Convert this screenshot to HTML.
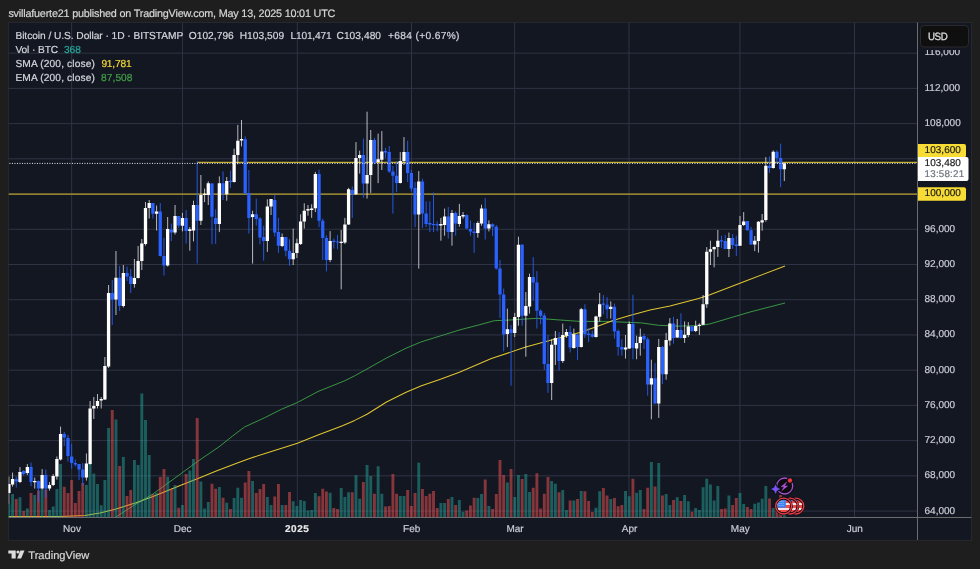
<!DOCTYPE html><html><head><meta charset="utf-8"><title>BTCUSD chart</title><style>
html,body{margin:0;padding:0;background:#1e1e1e}
body{width:980px;height:569px;position:relative;overflow:hidden;font-family:"Liberation Sans",sans-serif;}
.t{position:absolute;white-space:nowrap;line-height:1;color:#d1d4dc;text-rendering:geometricPrecision;-webkit-text-stroke:0.2px currentColor}
.ax{font-size:10px;letter-spacing:0.02px;color:#cbcdd4}

.lg{font-size:10.2px;color:#d4d6dc;letter-spacing:0.05px}
</style></head><body>
<svg width="980" height="569" viewBox="0 0 980 569" style="position:absolute;left:0;top:0">
<rect x="8.62" y="22.42" width="962.95" height="517.85" fill="#131722" stroke="#2b2c32" stroke-width="0.85"/>
<clipPath id="cp"><rect x="8.5" y="22.5" width="909.0" height="495.0"/></clipPath>
<path d="M8.5 511.06H917.5M8.5 475.84H917.5M8.5 440.62H917.5M8.5 405.39H917.5M8.5 370.17H917.5M8.5 334.94H917.5M8.5 299.72H917.5M8.5 264.50H917.5M8.5 229.27H917.5M8.5 194.05H917.5M8.5 158.82H917.5M8.5 123.60H917.5M8.5 88.38H917.5M8.5 53.15H917.5M71.65 22.5V517.5M182.55 22.5V517.5M297.30 22.5V517.5M411.50 22.5V517.5M514.65 22.5V517.5M629.00 22.5V517.5M739.95 22.5V517.5M854.50 22.5V517.5" stroke="#2f3445" stroke-width="1" fill="none"/>
<g clip-path="url(#cp)">
<path d="M8.5 194.05H917.5" stroke="#b5a02d" stroke-width="1.3"/>
<path d="M197.19 162.35H917.5" stroke="#c4ad2e" stroke-width="1.3"/>
<path d="M116.0 517.0L125.0 511.0L136.0 504.1L153.1 493.9L182.7 472.4L197.4 461.6L220.0 446.1L232.2 436.3L244.5 427.0L264.1 418.0L281.2 409.4L297.4 402.5L318.0 391.5L344.9 380.7L354.7 375.8L367.0 369.0L386.5 358.0L406.1 348.2L420.8 342.0L440.4 335.9L460.0 329.8L478.6 325.0L494.3 320.7L510.0 320.0L537.0 318.3L560.0 320.0L580.0 321.4L605.7 321.4L641.4 322.9L658.6 325.3L678.6 326.1L698.6 325.7L710.0 323.9L750.0 312.0L785.0 303.0" stroke="#3c9c44" stroke-width="0.95" fill="none" stroke-linejoin="round"/>
<path d="M8.5 516.6L60.0 516.4L85.0 515.5L100.0 513.0L116.0 509.0L136.0 502.7L153.0 496.5L182.7 484.4L197.4 478.7L215.0 471.5L236.0 463.4L248.2 458.9L269.0 452.3L297.4 443.2L318.0 435.1L342.5 425.8L354.7 420.4L367.0 414.3L386.5 402.0L406.1 392.2L420.8 386.1L440.4 379.3L460.0 371.9L491.4 358.6L525.7 347.1L570.0 335.0L580.0 332.5L595.7 326.9L612.9 320.4L628.9 315.7L650.0 310.0L670.0 306.0L698.6 298.6L710.0 294.7L746.4 280.7L785.0 266.0" stroke="#e0c530" stroke-width="1.05" fill="none" stroke-linejoin="round"/>
<path d="M7.43 504.0h2.9V517.2h-2.9zM11.12 493.9h2.9V517.2h-2.9zM18.51 497.3h2.9V517.2h-2.9zM25.89 508.4h2.9V517.2h-2.9zM33.28 494.9h2.9V517.2h-2.9zM40.66 489.6h2.9V517.2h-2.9zM48.05 510.1h2.9V517.2h-2.9zM51.74 506.6h2.9V517.2h-2.9zM55.43 489.1h2.9V517.2h-2.9zM59.12 464.1h2.9V517.2h-2.9zM84.97 484.9h2.9V517.2h-2.9zM88.66 464.1h2.9V517.2h-2.9zM92.36 473.4h2.9V517.2h-2.9zM96.05 483.9h2.9V517.2h-2.9zM99.74 505.3h2.9V517.2h-2.9zM103.43 479.9h2.9V517.2h-2.9zM107.12 427.9h2.9V517.2h-2.9zM114.51 419.6h2.9V517.2h-2.9zM121.89 457.0h2.9V517.2h-2.9zM132.97 459.9h2.9V517.2h-2.9zM136.67 465.0h2.9V517.2h-2.9zM140.36 393.6h2.9V517.2h-2.9zM144.05 420.0h2.9V517.2h-2.9zM147.74 455.0h2.9V517.2h-2.9zM155.13 492.7h2.9V517.2h-2.9zM166.21 476.7h2.9V517.2h-2.9zM173.59 484.9h2.9V517.2h-2.9zM180.98 504.9h2.9V517.2h-2.9zM188.36 470.6h2.9V517.2h-2.9zM192.05 459.1h2.9V517.2h-2.9zM199.44 481.6h2.9V517.2h-2.9zM203.13 508.4h2.9V517.2h-2.9zM206.82 502.0h2.9V517.2h-2.9zM217.90 487.0h2.9V517.2h-2.9zM225.29 502.7h2.9V517.2h-2.9zM232.67 498.0h2.9V517.2h-2.9zM236.36 487.7h2.9V517.2h-2.9zM240.06 497.7h2.9V517.2h-2.9zM251.13 480.9h2.9V517.2h-2.9zM265.90 497.0h2.9V517.2h-2.9zM269.59 504.9h2.9V517.2h-2.9zM280.67 504.9h2.9V517.2h-2.9zM291.75 501.3h2.9V517.2h-2.9zM295.44 505.9h2.9V517.2h-2.9zM299.14 499.9h2.9V517.2h-2.9zM302.83 500.9h2.9V517.2h-2.9zM306.52 510.6h2.9V517.2h-2.9zM310.21 509.9h2.9V517.2h-2.9zM313.91 493.0h2.9V517.2h-2.9zM328.68 492.7h2.9V517.2h-2.9zM339.75 488.0h2.9V517.2h-2.9zM343.44 497.0h2.9V517.2h-2.9zM347.14 492.3h2.9V517.2h-2.9zM354.52 475.3h2.9V517.2h-2.9zM358.21 498.7h2.9V517.2h-2.9zM365.60 464.9h2.9V517.2h-2.9zM369.29 475.9h2.9V517.2h-2.9zM376.68 466.3h2.9V517.2h-2.9zM380.37 493.7h2.9V517.2h-2.9zM398.83 496.0h2.9V517.2h-2.9zM402.53 496.0h2.9V517.2h-2.9zM417.30 462.7h2.9V517.2h-2.9zM439.45 503.0h2.9V517.2h-2.9zM443.14 503.0h2.9V517.2h-2.9zM450.53 497.0h2.9V517.2h-2.9zM457.91 499.9h2.9V517.2h-2.9zM461.60 511.7h2.9V517.2h-2.9zM476.38 498.0h2.9V517.2h-2.9zM480.07 494.1h2.9V517.2h-2.9zM487.45 506.0h2.9V517.2h-2.9zM505.92 482.4h2.9V517.2h-2.9zM513.30 497.0h2.9V517.2h-2.9zM516.99 474.9h2.9V517.2h-2.9zM524.38 474.1h2.9V517.2h-2.9zM528.07 492.0h2.9V517.2h-2.9zM550.22 481.0h2.9V517.2h-2.9zM553.92 483.7h2.9V517.2h-2.9zM561.30 490.1h2.9V517.2h-2.9zM564.99 509.9h2.9V517.2h-2.9zM572.38 500.6h2.9V517.2h-2.9zM579.76 490.9h2.9V517.2h-2.9zM594.53 507.7h2.9V517.2h-2.9zM598.23 491.3h2.9V517.2h-2.9zM609.30 499.1h2.9V517.2h-2.9zM624.07 490.9h2.9V517.2h-2.9zM627.77 496.3h2.9V517.2h-2.9zM635.15 492.7h2.9V517.2h-2.9zM638.84 489.9h2.9V517.2h-2.9zM649.92 462.0h2.9V517.2h-2.9zM657.31 463.0h2.9V517.2h-2.9zM664.69 493.9h2.9V517.2h-2.9zM668.38 504.9h2.9V517.2h-2.9zM675.77 497.3h2.9V517.2h-2.9zM683.15 494.9h2.9V517.2h-2.9zM686.85 501.3h2.9V517.2h-2.9zM694.23 508.0h2.9V517.2h-2.9zM697.92 509.9h2.9V517.2h-2.9zM701.62 487.3h2.9V517.2h-2.9zM705.31 478.7h2.9V517.2h-2.9zM709.00 484.6h2.9V517.2h-2.9zM712.69 500.6h2.9V517.2h-2.9zM716.39 486.0h2.9V517.2h-2.9zM727.46 495.6h2.9V517.2h-2.9zM738.54 493.0h2.9V517.2h-2.9zM742.23 504.1h2.9V517.2h-2.9zM753.31 503.7h2.9V517.2h-2.9zM757.00 502.4h2.9V517.2h-2.9zM760.70 498.7h2.9V517.2h-2.9zM764.39 486.0h2.9V517.2h-2.9zM771.77 508.0h2.9V517.2h-2.9zM782.85 514.9h2.9V517.2h-2.9z" fill="#26a69a" fill-opacity="0.5"/>
<path d="M14.81 499.1h2.9V517.2h-2.9zM22.20 511.0h2.9V517.2h-2.9zM29.58 493.1h2.9V517.2h-2.9zM36.97 490.6h2.9V517.2h-2.9zM44.35 489.6h2.9V517.2h-2.9zM62.81 486.7h2.9V517.2h-2.9zM66.51 493.0h2.9V517.2h-2.9zM70.20 480.1h2.9V517.2h-2.9zM73.89 503.0h2.9V517.2h-2.9zM77.59 491.0h2.9V517.2h-2.9zM81.28 483.0h2.9V517.2h-2.9zM110.82 410.0h2.9V517.2h-2.9zM118.20 466.0h2.9V517.2h-2.9zM125.59 495.9h2.9V517.2h-2.9zM129.28 490.1h2.9V517.2h-2.9zM151.44 494.1h2.9V517.2h-2.9zM158.82 477.0h2.9V517.2h-2.9zM162.51 469.1h2.9V517.2h-2.9zM169.90 489.1h2.9V517.2h-2.9zM177.28 507.7h2.9V517.2h-2.9zM184.67 473.9h2.9V517.2h-2.9zM195.75 418.1h2.9V517.2h-2.9zM210.52 483.7h2.9V517.2h-2.9zM214.21 488.7h2.9V517.2h-2.9zM221.59 497.7h2.9V517.2h-2.9zM228.98 508.9h2.9V517.2h-2.9zM243.75 482.4h2.9V517.2h-2.9zM247.44 471.0h2.9V517.2h-2.9zM254.82 493.0h2.9V517.2h-2.9zM258.52 488.9h2.9V517.2h-2.9zM262.21 483.9h2.9V517.2h-2.9zM273.29 496.5h2.9V517.2h-2.9zM276.98 484.1h2.9V517.2h-2.9zM284.37 504.9h2.9V517.2h-2.9zM288.06 492.0h2.9V517.2h-2.9zM317.60 496.3h2.9V517.2h-2.9zM321.29 488.7h2.9V517.2h-2.9zM324.98 491.6h2.9V517.2h-2.9zM332.37 508.0h2.9V517.2h-2.9zM336.06 508.9h2.9V517.2h-2.9zM350.83 492.3h2.9V517.2h-2.9zM361.91 482.0h2.9V517.2h-2.9zM372.98 493.7h2.9V517.2h-2.9zM384.06 506.6h2.9V517.2h-2.9zM387.76 505.9h2.9V517.2h-2.9zM391.45 473.9h2.9V517.2h-2.9zM395.14 493.7h2.9V517.2h-2.9zM406.22 489.9h2.9V517.2h-2.9zM409.91 505.9h2.9V517.2h-2.9zM413.60 493.0h2.9V517.2h-2.9zM420.99 489.1h2.9V517.2h-2.9zM424.68 495.9h2.9V517.2h-2.9zM428.37 493.7h2.9V517.2h-2.9zM432.06 490.9h2.9V517.2h-2.9zM435.76 508.0h2.9V517.2h-2.9zM446.83 499.1h2.9V517.2h-2.9zM454.22 504.9h2.9V517.2h-2.9zM465.30 510.6h2.9V517.2h-2.9zM468.99 505.6h2.9V517.2h-2.9zM472.68 497.7h2.9V517.2h-2.9zM483.76 479.4h2.9V517.2h-2.9zM491.15 509.1h2.9V517.2h-2.9zM494.84 493.9h2.9V517.2h-2.9zM498.53 459.9h2.9V517.2h-2.9zM502.22 474.9h2.9V517.2h-2.9zM509.61 469.1h2.9V517.2h-2.9zM520.68 478.9h2.9V517.2h-2.9zM531.76 487.7h2.9V517.2h-2.9zM535.45 473.2h2.9V517.2h-2.9zM539.15 508.4h2.9V517.2h-2.9zM542.84 493.7h2.9V517.2h-2.9zM546.53 477.0h2.9V517.2h-2.9zM557.61 492.3h2.9V517.2h-2.9zM568.69 500.6h2.9V517.2h-2.9zM576.07 499.1h2.9V517.2h-2.9zM583.46 491.3h2.9V517.2h-2.9zM587.15 500.9h2.9V517.2h-2.9zM590.84 512.0h2.9V517.2h-2.9zM601.92 488.0h2.9V517.2h-2.9zM605.61 495.6h2.9V517.2h-2.9zM613.00 498.0h2.9V517.2h-2.9zM616.69 506.3h2.9V517.2h-2.9zM620.38 504.9h2.9V517.2h-2.9zM631.46 478.7h2.9V517.2h-2.9zM642.54 509.1h2.9V517.2h-2.9zM646.23 487.7h2.9V517.2h-2.9zM653.61 486.6h2.9V517.2h-2.9zM661.00 495.6h2.9V517.2h-2.9zM672.08 499.9h2.9V517.2h-2.9zM679.46 500.9h2.9V517.2h-2.9zM690.54 511.7h2.9V517.2h-2.9zM720.08 509.1h2.9V517.2h-2.9zM723.77 508.4h2.9V517.2h-2.9zM731.16 504.9h2.9V517.2h-2.9zM734.85 498.0h2.9V517.2h-2.9zM745.93 507.0h2.9V517.2h-2.9zM749.62 508.9h2.9V517.2h-2.9zM768.08 498.4h2.9V517.2h-2.9zM775.47 507.0h2.9V517.2h-2.9zM779.16 494.9h2.9V517.2h-2.9z" fill="#ef5350" fill-opacity="0.52"/>
<path d="M16.26 476.6V487.6M23.65 470.1V475.6M31.03 462.6V486.1M38.42 480.6V502.1M45.80 469.6V497.6M64.27 432.0V446.0M67.96 435.0V461.6M71.65 444.0V468.6M75.34 459.5V466.6M79.04 464.1V480.1M82.73 463.1V485.6M112.27 280.0V325.0M119.65 266.0V311.0M127.04 266.5V281.0M130.73 269.0V293.0M152.88 203.0V218.5M160.27 203.0V256.6M163.96 238.0V275.5M171.35 223.5V241.0M178.73 216.0V228.0M186.12 210.0V243.6M197.19 161.4V263.6M211.97 183.0V244.3M215.66 209.3V243.9M223.04 171.4V200.0M230.43 170.7V187.9M245.20 136.4V194.0M248.89 170.0V233.6M256.27 198.6V225.7M259.97 217.1V244.3M263.66 225.7V260.7M274.74 195.0V236.4M278.43 217.9V252.9M285.81 237.1V256.4M289.51 239.3V265.7M319.05 169.7V227.1M322.74 218.6V260.0M326.43 235.4V271.4M333.82 238.6V248.6M337.51 235.0V249.3M352.28 186.4V217.9M363.36 138.6V197.9M374.43 137.9V164.3M385.51 147.9V157.9M389.21 146.0V172.9M392.90 166.0V213.6M396.59 161.1V192.1M407.67 140.7V182.1M411.36 170.0V191.4M415.05 182.0V227.1M422.44 178.6V227.9M426.13 201.4V227.1M429.82 201.4V232.1M433.51 192.6V232.1M437.21 221.4V231.4M448.28 207.1V238.6M455.67 211.4V235.7M466.75 214.3V229.3M470.44 220.4V235.7M474.13 222.9V252.9M485.21 198.1V239.6M492.60 223.3V236.1M496.29 225.0V269.7M499.98 260.0V317.9M503.67 288.6V351.4M511.06 325.0V385.7M522.13 244.0V325.7M533.21 257.1V300.7M536.90 271.1V328.6M540.60 309.3V324.3M544.29 313.1V370.0M547.98 335.0V392.9M559.06 332.1V370.7M570.14 325.7V352.4M577.52 334.0V360.0M584.91 304.3V337.9M588.60 327.9V342.1M592.29 330.7V337.6M603.37 295.0V314.3M607.06 297.1V318.6M614.45 303.6V338.6M618.14 329.3V355.7M621.83 339.3V355.7M632.91 294.7V359.3M643.99 333.3V349.0M647.68 337.1V395.7M655.06 363.1V404.0M662.45 346.0V384.0M673.53 316.7V343.6M680.91 313.3V338.6M691.99 325.7V331.9M721.53 235.7V247.9M725.22 235.0V249.3M732.61 234.0V248.9M736.30 235.7V256.0M747.38 221.0V230.7M751.07 226.9V245.0M769.53 156.4V172.9M776.92 150.3V163.6M780.61 143.6V187.1" stroke="#2962ff" stroke-width="1" fill="none" opacity="0.85"/>
<path d="M8.88 476.6V504.0M12.57 472.6V486.6M19.96 467.1V483.1M27.34 464.1V475.1M34.73 477.6V488.6M42.11 469.1V489.6M49.50 482.1V490.6M53.19 474.1V486.1M56.88 456.5V479.6M60.57 426.6V460.5M86.42 453.5V480.6M90.11 401.0V464.6M93.81 397.0V419.0M97.50 394.0V408.5M101.19 397.0V408.5M104.88 357.0V400.0M108.58 285.0V368.0M115.96 251.0V315.0M123.34 265.0V307.5M134.42 259.0V287.6M138.12 246.0V278.5M141.81 239.0V270.0M145.50 202.0V245.6M149.19 200.0V218.5M156.58 205.5V230.5M167.66 217.0V266.5M175.04 205.0V234.5M182.43 212.9V231.4M189.81 227.1V250.7M193.50 200.7V241.4M200.89 175.0V225.0M204.58 188.6V202.1M208.27 181.4V205.0M219.35 176.4V232.1M226.74 177.0V200.7M234.12 148.6V182.5M237.81 125.0V164.3M241.50 120.0V146.4M252.58 210.7V263.6M267.35 199.3V251.9M271.04 199.0V215.0M282.12 233.6V247.1M293.20 228.6V265.0M296.89 238.6V257.9M300.59 214.3V245.0M304.28 203.3V228.6M307.97 205.0V215.7M311.66 204.3V217.9M315.36 171.9V212.1M330.12 231.1V262.1M341.20 230.0V289.3M344.89 217.9V244.0M348.59 187.9V225.0M355.97 142.1V195.0M359.66 150.7V173.6M367.05 111.7V198.6M370.74 130.0V192.9M378.13 133.6V183.1M381.82 131.1V170.0M400.28 152.1V183.5M403.98 137.1V165.0M418.75 171.1V268.6M440.90 217.9V240.7M444.59 208.6V235.7M451.98 210.0V245.7M459.36 203.9V226.7M463.05 212.1V218.6M477.83 221.4V237.6M481.52 204.7V225.7M488.90 220.4V231.4M507.37 308.6V347.1M514.75 312.9V337.1M518.44 236.7V325.7M525.83 292.1V356.7M529.52 273.6V313.6M551.67 339.3V400.0M555.37 331.0V365.0M562.75 323.6V362.9M566.44 329.0V337.9M573.83 328.6V348.6M581.22 307.9V347.5M595.99 315.7V337.5M599.68 292.9V321.4M610.75 301.4V318.6M625.52 335.0V358.6M629.22 321.4V349.0M636.60 335.7V359.3M640.29 328.6V355.7M651.37 359.7V419.3M658.76 339.0V417.9M666.14 332.9V379.7M669.83 318.1V345.7M677.22 319.0V338.0M684.60 321.4V342.9M688.30 322.1V337.1M695.68 320.7V332.1M699.38 323.3V335.0M703.07 295.0V325.0M706.76 247.1V307.9M710.45 240.7V265.0M714.14 246.5V267.4M717.84 230.0V256.9M728.91 232.6V257.1M739.99 216.0V246.0M743.68 212.1V226.0M754.76 236.0V251.1M758.45 221.1V252.6M762.15 214.0V230.7M765.84 157.1V221.7M773.22 150.3V168.6M784.30 163.1V181.1" stroke="#ffffff" stroke-width="1" fill="none" opacity="0.7"/>
<path d="M14.61 479.3h3.3V481.6h-3.3zM22.00 471.1h3.3V474.1h-3.3zM29.38 467.1h3.3V482.1h-3.3zM36.77 481.1h3.3V488.6h-3.3zM44.15 474.9h3.3V488.6h-3.3zM62.62 434.0h3.3V437.5h-3.3zM66.31 438.0h3.3V456.0h-3.3zM70.00 456.5h3.3V462.9h-3.3zM73.69 463.1h3.3V464.6h-3.3zM77.39 464.1h3.3V469.6h-3.3zM81.08 469.6h3.3V477.6h-3.3zM110.62 293.0h3.3V299.6h-3.3zM118.00 277.8h3.3V305.8h-3.3zM125.39 273.0h3.3V276.5h-3.3zM129.08 276.5h3.3V283.9h-3.3zM151.23 203.0h3.3V213.8h-3.3zM158.62 211.5h3.3V256.0h-3.3zM162.31 256.0h3.3V265.5h-3.3zM169.70 229.5h3.3V232.5h-3.3zM177.08 216.0h3.3V225.5h-3.3zM184.47 218.1h3.3V231.0h-3.3zM195.54 205.0h3.3V220.7h-3.3zM210.31 183.6h3.3V216.7h-3.3zM214.01 217.9h3.3V223.9h-3.3zM221.39 183.3h3.3V193.6h-3.3zM228.78 180.7h3.3V181.9h-3.3zM243.55 139.3h3.3V193.3h-3.3zM247.24 192.9h3.3V217.9h-3.3zM254.62 214.3h3.3V219.0h-3.3zM258.32 218.6h3.3V237.6h-3.3zM262.01 237.1h3.3V241.0h-3.3zM273.09 200.0h3.3V232.4h-3.3zM276.78 232.1h3.3V245.7h-3.3zM284.17 237.1h3.3V250.7h-3.3zM287.86 250.7h3.3V259.3h-3.3zM317.40 174.0h3.3V220.7h-3.3zM321.09 220.7h3.3V237.9h-3.3zM324.78 237.9h3.3V260.0h-3.3zM332.17 240.7h3.3V242.1h-3.3zM335.86 241.4h3.3V242.6h-3.3zM350.63 190.0h3.3V194.3h-3.3zM361.71 155.0h3.3V183.6h-3.3zM372.78 140.0h3.3V162.9h-3.3zM383.86 151.1h3.3V152.6h-3.3zM387.56 152.1h3.3V171.4h-3.3zM391.25 171.4h3.3V175.7h-3.3zM394.94 175.7h3.3V182.9h-3.3zM406.02 152.1h3.3V172.9h-3.3zM409.71 172.9h3.3V188.6h-3.3zM413.40 187.9h3.3V214.6h-3.3zM420.79 181.4h3.3V213.6h-3.3zM424.48 213.6h3.3V224.0h-3.3zM428.17 223.1h3.3V224.6h-3.3zM431.87 223.9h3.3V225.1h-3.3zM435.56 224.2h3.3V225.4h-3.3zM446.63 216.4h3.3V231.9h-3.3zM454.02 212.9h3.3V223.6h-3.3zM465.10 215.0h3.3V228.6h-3.3zM468.79 229.0h3.3V231.4h-3.3zM472.48 231.4h3.3V232.9h-3.3zM483.56 208.6h3.3V228.6h-3.3zM490.95 224.3h3.3V226.7h-3.3zM494.64 226.7h3.3V268.6h-3.3zM498.33 268.6h3.3V294.6h-3.3zM502.02 294.6h3.3V334.6h-3.3zM509.41 329.3h3.3V332.9h-3.3zM520.49 244.7h3.3V315.7h-3.3zM531.56 277.1h3.3V282.6h-3.3zM535.25 282.6h3.3V310.7h-3.3zM538.95 310.7h3.3V315.7h-3.3zM542.64 315.4h3.3V363.9h-3.3zM546.33 363.9h3.3V382.9h-3.3zM557.41 338.1h3.3V361.0h-3.3zM568.49 331.9h3.3V347.6h-3.3zM575.87 334.7h3.3V347.0h-3.3zM583.26 309.3h3.3V334.3h-3.3zM586.95 333.6h3.3V335.0h-3.3zM590.64 334.3h3.3V336.7h-3.3zM601.72 303.5h3.3V304.8h-3.3zM605.41 304.7h3.3V309.3h-3.3zM612.80 306.7h3.3V331.4h-3.3zM616.49 331.0h3.3V347.1h-3.3zM620.18 347.1h3.3V349.6h-3.3zM631.26 323.9h3.3V348.1h-3.3zM642.34 336.1h3.3V339.6h-3.3zM646.03 339.3h3.3V384.6h-3.3zM653.41 378.3h3.3V403.6h-3.3zM660.80 347.1h3.3V374.3h-3.3zM671.88 323.6h3.3V337.9h-3.3zM679.26 330.0h3.3V337.9h-3.3zM690.34 326.4h3.3V331.0h-3.3zM719.88 240.3h3.3V241.5h-3.3zM723.57 241.1h3.3V248.9h-3.3zM730.96 237.9h3.3V245.0h-3.3zM734.65 244.6h3.3V246.0h-3.3zM745.73 221.1h3.3V230.3h-3.3zM749.42 230.3h3.3V244.6h-3.3zM767.88 165.7h3.3V167.9h-3.3zM775.27 151.7h3.3V157.9h-3.3zM778.96 157.9h3.3V169.3h-3.3z" fill="#2962ff"/>
<path d="M7.23 484.1h3.3V493.0h-3.3zM10.92 479.1h3.3V484.6h-3.3zM18.31 472.1h3.3V482.1h-3.3zM25.69 467.1h3.3V473.1h-3.3zM33.08 481.0h3.3V482.2h-3.3zM40.46 474.9h3.3V488.6h-3.3zM47.85 484.9h3.3V488.6h-3.3zM51.54 476.1h3.3V485.1h-3.3zM55.23 459.0h3.3V476.6h-3.3zM58.92 434.1h3.3V459.5h-3.3zM84.77 463.6h3.3V477.6h-3.3zM88.46 408.5h3.3V464.1h-3.3zM92.16 406.0h3.3V408.5h-3.3zM95.85 401.0h3.3V406.0h-3.3zM99.54 399.0h3.3V400.5h-3.3zM103.23 366.0h3.3V399.6h-3.3zM106.92 293.1h3.3V366.5h-3.3zM114.31 277.8h3.3V299.6h-3.3zM121.69 273.0h3.3V306.0h-3.3zM132.77 278.0h3.3V283.9h-3.3zM136.47 261.0h3.3V278.0h-3.3zM140.16 243.6h3.3V261.0h-3.3zM143.85 208.0h3.3V243.9h-3.3zM147.54 203.0h3.3V208.0h-3.3zM154.93 211.5h3.3V213.8h-3.3zM166.00 229.0h3.3V265.5h-3.3zM173.39 216.0h3.3V232.5h-3.3zM180.78 218.1h3.3V225.7h-3.3zM188.16 229.3h3.3V231.0h-3.3zM191.85 205.0h3.3V230.4h-3.3zM199.24 195.0h3.3V220.7h-3.3zM202.93 193.8h3.3V195.0h-3.3zM206.62 183.3h3.3V195.0h-3.3zM217.70 183.3h3.3V223.9h-3.3zM225.09 181.0h3.3V194.3h-3.3zM232.47 155.0h3.3V181.9h-3.3zM236.16 140.7h3.3V155.0h-3.3zM239.85 139.0h3.3V140.4h-3.3zM250.93 214.3h3.3V217.1h-3.3zM265.70 206.4h3.3V241.0h-3.3zM269.39 199.0h3.3V206.4h-3.3zM280.47 237.1h3.3V246.1h-3.3zM291.55 252.9h3.3V259.3h-3.3zM295.24 243.3h3.3V252.9h-3.3zM298.94 221.4h3.3V243.9h-3.3zM302.63 210.7h3.3V221.4h-3.3zM306.32 209.0h3.3V210.4h-3.3zM310.01 208.6h3.3V210.0h-3.3zM313.71 174.0h3.3V208.3h-3.3zM328.48 241.0h3.3V260.0h-3.3zM339.55 241.8h3.3V243.0h-3.3zM343.25 224.6h3.3V242.6h-3.3zM346.94 189.3h3.3V224.6h-3.3zM354.32 157.9h3.3V194.3h-3.3zM358.01 155.0h3.3V157.9h-3.3zM365.40 175.0h3.3V183.6h-3.3zM369.09 140.0h3.3V175.0h-3.3zM376.48 159.3h3.3V162.1h-3.3zM380.17 151.4h3.3V159.7h-3.3zM398.63 161.1h3.3V182.9h-3.3zM402.33 152.1h3.3V161.1h-3.3zM417.10 181.4h3.3V214.6h-3.3zM439.25 224.0h3.3V225.4h-3.3zM442.94 216.4h3.3V225.0h-3.3zM450.33 212.9h3.3V231.9h-3.3zM457.71 216.1h3.3V223.9h-3.3zM461.40 215.0h3.3V216.4h-3.3zM476.18 222.9h3.3V232.9h-3.3zM479.87 208.6h3.3V223.6h-3.3zM487.25 224.3h3.3V228.6h-3.3zM505.72 329.3h3.3V334.0h-3.3zM513.10 317.1h3.3V332.9h-3.3zM516.79 244.7h3.3V317.1h-3.3zM524.18 306.0h3.3V315.7h-3.3zM527.87 277.1h3.3V306.4h-3.3zM550.02 344.7h3.3V382.9h-3.3zM553.72 338.1h3.3V344.7h-3.3zM561.10 335.0h3.3V361.0h-3.3zM564.79 332.1h3.3V335.7h-3.3zM572.18 334.3h3.3V347.9h-3.3zM579.57 309.3h3.3V347.1h-3.3zM594.34 316.4h3.3V337.1h-3.3zM598.03 304.3h3.3V316.7h-3.3zM609.11 306.7h3.3V308.9h-3.3zM623.88 347.4h3.3V349.6h-3.3zM627.57 323.9h3.3V348.6h-3.3zM634.95 342.9h3.3V348.6h-3.3zM638.64 336.7h3.3V342.9h-3.3zM649.72 378.3h3.3V384.6h-3.3zM657.11 347.1h3.3V403.6h-3.3zM664.49 340.0h3.3V374.3h-3.3zM668.18 323.6h3.3V340.4h-3.3zM675.57 330.0h3.3V337.6h-3.3zM682.95 334.7h3.3V338.1h-3.3zM686.65 326.4h3.3V335.0h-3.3zM694.03 326.1h3.3V331.0h-3.3zM697.73 324.7h3.3V326.1h-3.3zM701.42 304.3h3.3V324.7h-3.3zM705.11 251.7h3.3V304.3h-3.3zM708.80 249.3h3.3V251.7h-3.3zM712.50 246.9h3.3V249.3h-3.3zM716.19 240.7h3.3V246.9h-3.3zM727.26 237.9h3.3V248.9h-3.3zM738.34 225.0h3.3V245.7h-3.3zM742.03 221.4h3.3V225.0h-3.3zM753.11 240.7h3.3V244.6h-3.3zM756.80 221.7h3.3V241.1h-3.3zM760.50 220.3h3.3V222.6h-3.3zM764.19 165.7h3.3V220.0h-3.3zM771.57 151.7h3.3V167.9h-3.3zM782.65 163.3h3.3V169.3h-3.3z" fill="#ffffff"/>
<path d="M8.5 163.40H917.5" stroke="#f0f0f0" stroke-width="1" stroke-dasharray="1 1.5" stroke-dashoffset="-0.95"/>
</g>
<path d="M917.5 22.5V540M8.5 517.5H971.5" stroke="#6c6c6e" stroke-width="1" fill="none"/>
<path d="M918 144h46a2 2 0 0 1 2 2v9.5a2 2 0 0 1 -2 2h-46z" fill="#f7dc35"/>
<path d="M918 187.3h46a2 2 0 0 1 2 2v9.5a2 2 0 0 1 -2 2h-46z" fill="#f7dc35"/>
<path d="M918 157h48.5a2 2 0 0 1 2 2v20a2 2 0 0 1 -2 2h-48.5z" fill="#ffffff"/>
<rect x="920.5" y="25.5" width="48" height="21.5" rx="3.5" fill="#0f0f0f" stroke="#2f2d2f" stroke-width="0.9"/>
<g><g>
<circle cx="795.8" cy="506.0" r="9.2" fill="#11131b"/>
<circle cx="795.8" cy="506.0" r="7.95" fill="#0b0b0e" stroke="#ee3a44" stroke-width="1.35"/>
<clipPath id="fl3"><circle cx="795.8" cy="506.0" r="6.35"/></clipPath>
<g clip-path="url(#fl3)">
<rect x="788.8" y="499.0" width="14" height="14" fill="#f04a4a"/>
<rect x="788.8" y="503.1" width="14" height="1.8" fill="#f7f7fa"/>
<rect x="788.8" y="508.1" width="14" height="1.8" fill="#f7f7fa"/>
<rect x="788.8" y="499.0" width="9.2" height="8.7" fill="#3a82f2"/>
<path d="M791.20 501.40h0.01M793.20 501.40h0.01M795.20 501.40h0.01M791.20 503.40h0.01M793.20 503.40h0.01M795.20 503.40h0.01M791.20 505.40h0.01M793.20 505.40h0.01M795.20 505.40h0.01" stroke="#dfeafd" stroke-width="0.9" stroke-linecap="round" opacity="0.9"/>
</g>
</g><g>
<circle cx="790.1" cy="506.0" r="9.2" fill="#11131b"/>
<circle cx="790.1" cy="506.0" r="7.95" fill="#0b0b0e" stroke="#ee3a44" stroke-width="1.35"/>
<clipPath id="fl2"><circle cx="790.1" cy="506.0" r="6.35"/></clipPath>
<g clip-path="url(#fl2)">
<rect x="783.1" y="499.0" width="14" height="14" fill="#f04a4a"/>
<rect x="783.1" y="503.1" width="14" height="1.8" fill="#f7f7fa"/>
<rect x="783.1" y="508.1" width="14" height="1.8" fill="#f7f7fa"/>
<rect x="783.1" y="499.0" width="9.2" height="8.7" fill="#3a82f2"/>
<path d="M785.50 501.40h0.01M787.50 501.40h0.01M789.50 501.40h0.01M785.50 503.40h0.01M787.50 503.40h0.01M789.50 503.40h0.01M785.50 505.40h0.01M787.50 505.40h0.01M789.50 505.40h0.01" stroke="#dfeafd" stroke-width="0.9" stroke-linecap="round" opacity="0.9"/>
</g>
</g><g>
<circle cx="783.65" cy="506.0" r="9.2" fill="#11131b"/>
<circle cx="783.65" cy="506.0" r="7.95" fill="#0b0b0e" stroke="#ee3a44" stroke-width="1.35"/>
<clipPath id="fl1"><circle cx="783.65" cy="506.0" r="6.35"/></clipPath>
<g clip-path="url(#fl1)">
<rect x="776.65" y="499.0" width="14" height="14" fill="#f04a4a"/>
<rect x="776.65" y="503.1" width="14" height="1.8" fill="#f7f7fa"/>
<rect x="776.65" y="508.1" width="14" height="1.8" fill="#f7f7fa"/>
<rect x="776.65" y="499.0" width="9.2" height="8.7" fill="#3a82f2"/>
<path d="M779.05 501.40h0.01M781.05 501.40h0.01M783.05 501.40h0.01M779.05 503.40h0.01M781.05 503.40h0.01M783.05 503.40h0.01M779.05 505.40h0.01M781.05 505.40h0.01M783.05 505.40h0.01" stroke="#dfeafd" stroke-width="0.9" stroke-linecap="round" opacity="0.9"/>
</g>
</g>
<circle cx="784.7" cy="486" r="9.6" fill="#10121a"/>
<circle cx="784.7" cy="486" r="8.0" fill="#0c0c10" stroke="#a84fd2" stroke-width="1.3"/>
<path d="M786.8 481.9L781 486.8h3.1L781.7 490.8L787.7 485.9h-3.1z" fill="#b352dc" stroke="#b352dc" stroke-width="0.35" stroke-linejoin="round"/>
<path d="M775.6 484.8c0.7 2.6 1.5 3.5 4 4.3c-2.5 0.8-3.3 1.7-4 4.3c-0.7-2.6-1.5-3.5-4-4.3c2.5-0.8 3.3-1.7 4-4.3z" fill="#10121a" stroke="#10121a" stroke-width="2.6" stroke-linejoin="round"/>
<path d="M775.6 484.8c0.7 2.6 1.5 3.5 4 4.3c-2.5 0.8-3.3 1.7-4 4.3c-0.7-2.6-1.5-3.5-4-4.3c2.5-0.8 3.3-1.7 4-4.3z" fill="#7b55fb" stroke="#7b55fb" stroke-width="0.6" stroke-linejoin="round"/>
<circle cx="790" cy="480.5" r="3.3" fill="#10121a"/>
<circle cx="790" cy="480.5" r="2.15" fill="#f23645"/>
</g>
<path d="M8.3 550.4h7.4v8.1h-4.1v-4.9h-3.3zM21.1 558.5h-4l3.3-8.1h4.1z" fill="#dcdcdc"/><circle cx="18" cy="552" r="1.6" fill="#dcdcdc"/>
</svg>
<div class="t " style="left:8.4px;top:9px;font-size:10.8px;color:#d6d6d6;letter-spacing:-0.19px">svillafuerte21 published on TradingView.com, May 13, 2025 10:01 UTC</div>
<div class="t lg" style="left:15.4px;top:32px;letter-spacing:-0.05px">Bitcoin / U.S. Dollar · 1D · BITSTAMP</div>
<div class="t lg" style="left:188.7px;top:32px;">O102,796</div>
<div class="t lg" style="left:239.7px;top:32px;">H103,509</div>
<div class="t lg" style="left:290.5px;top:32px;letter-spacing:-0.2px">L101,471</div>
<div class="t lg" style="left:336.5px;top:32px;">C103,480</div>
<div class="t lg" style="left:387.9px;top:32px;letter-spacing:0.35px">+684 (+0.67%)</div>
<div class="t lg" style="left:15.4px;top:46px;letter-spacing:-0.1px">Vol · BTC</div>
<div class="t lg" style="left:63.9px;top:46px;color:#26a69a">368</div>
<div class="t lg" style="left:15.4px;top:60px;letter-spacing:0.13px">SMA (200, close)</div>
<div class="t lg" style="left:101.4px;top:60px;color:#f5d936;letter-spacing:-0.2px">91,781</div>
<div class="t lg" style="left:15.4px;top:74px;letter-spacing:0.13px">EMA (200, close)</div>
<div class="t lg" style="left:101.1px;top:74px;color:#43a047">87,508</div>
<div class="t ax" style="left:924.5px;top:507px;">64,000</div>
<div class="t ax" style="left:924.5px;top:471px;">68,000</div>
<div class="t ax" style="left:924.5px;top:436px;">72,000</div>
<div class="t ax" style="left:924.5px;top:401px;">76,000</div>
<div class="t ax" style="left:924.5px;top:366px;">80,000</div>
<div class="t ax" style="left:924.5px;top:330px;">84,000</div>
<div class="t ax" style="left:924.5px;top:295px;">88,000</div>
<div class="t ax" style="left:924.5px;top:260px;">92,000</div>
<div class="t ax" style="left:924.5px;top:225px;">96,000</div>
<div class="t ax" style="left:924.5px;top:119px;">108,000</div>
<div class="t ax" style="left:924.5px;top:84px;">112,000</div>
<div class="t ax" style="left:924.5px;top:48px;clip-path:inset(2px 0 0 0)">116,000</div>
<div class="t ax" style="left:924.6px;top:146px;color:#1a1a1a">103,600</div>
<div class="t ax" style="left:924.6px;top:189px;color:#1a1a1a">100,000</div>
<div class="t ax" style="left:924.6px;top:159px;color:#1a1a1a">103,480</div>
<div class="t ax" style="left:924.6px;top:170px;color:#6f727c;font-size:9.8px;letter-spacing:0.2px">13:58:21</div>
<div class="t " style="left:928.2px;top:32px;font-size:10.6px;color:#e0e0e0;letter-spacing:-0.45px;-webkit-text-stroke:0.25px #e0e0e0;transform:scaleX(0.92);transform-origin:0 0">USD</div>
<div class="t ax" style="left:52.0px;width:40px;text-align:center;top:525px;">Nov</div>
<div class="t ax" style="left:162.7px;width:40px;text-align:center;top:525px;">Dec</div>
<div class="t ax" style="left:277.2px;width:40px;text-align:center;top:525px;font-weight:bold;letter-spacing:0.5px;color:#e6e6e6;">2025</div>
<div class="t ax" style="left:391.7px;width:40px;text-align:center;top:525px;">Feb</div>
<div class="t ax" style="left:495.1px;width:40px;text-align:center;top:525px;">Mar</div>
<div class="t ax" style="left:609.5px;width:40px;text-align:center;top:525px;">Apr</div>
<div class="t ax" style="left:720.3px;width:40px;text-align:center;top:525px;">May</div>
<div class="t ax" style="left:834.8px;width:40px;text-align:center;top:525px;">Jun</div>
<div class="t " style="left:28.3px;top:551px;font-size:11.1px;color:#d6d6d6;letter-spacing:0px">TradingView</div>
</body></html>
